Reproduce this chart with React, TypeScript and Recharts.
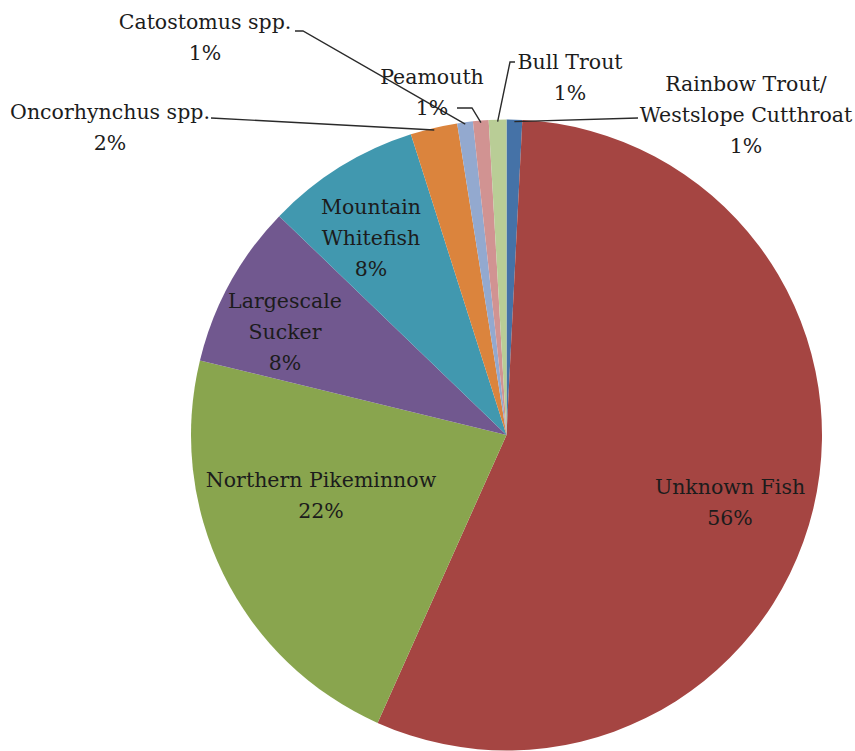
import React from "react";
import { PieChart, Pie, Cell } from "recharts";

// slice order follows the original workbook (first slice starts at 12 o'clock, clockwise)
const species = [
  "Rainbow Trout/\nWestslope Cutthroat",
  "Unknown Fish",
  "Northern Pikeminnow",
  "Largescale\nSucker",
  "Mountain\nWhitefish",
  "Oncorhynchus spp.",
  "Catostomus spp.",
  "Peamouth",
  "Bull Trout",
];

const shares = [0.8, 55.9, 22.1, 8.4, 7.9, 2.4, 0.8, 0.8, 0.9];

const colors = [
  "#4572A7",
  "#A54542",
  "#89A54E",
  "#71588F",
  "#4198AF",
  "#DB843D",
  "#93A9CF",
  "#D19392",
  "#B9CD96",
];

const data = species.map((name, i) => ({ name, value: shares[i] }));

// where each label sits (centre of first line) and the leader bend points
type Layout = { x: number; y: number; leader?: number[][] };
const labelLayout: Layout[] = [
  { x: 746, y: 84, leader: [[638, 118]] },
  { x: 730, y: 487 },
  { x: 321, y: 480 },
  { x: 285, y: 301 },
  { x: 371, y: 207 },
  { x: 110, y: 112, leader: [[211, 118]] },
  { x: 205, y: 22, leader: [[295, 31], [303, 31]] },
  { x: 432, y: 77, leader: [[457, 108], [472, 108]] },
  { x: 570, y: 62, leader: [[515, 62], [510, 62]] },
];

const LINE = 31;
const RAD = Math.PI / 180;
const FONT = '"DejaVu Serif", serif';

const renderLabel = (props: any) => {
  const { cx, cy, midAngle, outerRadius, index, percent, name } = props;
  const lay = labelLayout[index];
  const lines = [...String(name).split("\n"), `${Math.round(percent * 100)}%`];
  let leader = null;
  if (lay.leader) {
    const r = outerRadius - 2;
    const ex = cx + r * Math.cos(-midAngle * RAD);
    const ey = cy + r * Math.sin(-midAngle * RAD);
    const pts = [...lay.leader, [ex, ey]].map((p) => p.join(",")).join(" ");
    leader = <polyline points={pts} fill="none" stroke="#2a2a2a" strokeWidth={1.4} />;
  }
  return (
    <g key={`lbl-${index}`}>
      {leader}
      {lines.map((t, j) => (
        <text
          key={j}
          x={lay.x}
          y={lay.y + j * LINE}
          textAnchor="middle"
          dominantBaseline="central"
          fontFamily={FONT}
          fontSize={20.5}
          fill="#1c1c1c"
        >
          {t}
        </text>
      ))}
    </g>
  );
};

export default function App() {
  return (
    <div style={{ position: "absolute", left: 0, top: 0, background: "#fff" }}>
      <PieChart
        width={855}
        height={751}
        margin={{ top: 0, right: 0, bottom: 0, left: 0 }}
      >
        <Pie
          data={data}
          dataKey="value"
          nameKey="name"
          cx={506.5}
          cy={435}
          outerRadius={315.5}
          startAngle={90}
          endAngle={-270}
          stroke="none"
          label={renderLabel}
          labelLine={false}
          isAnimationActive={false}
        >
          {data.map((d, i) => (
            <Cell key={d.name} fill={colors[i]} />
          ))}
        </Pie>
      </PieChart>
    </div>
  );
}
